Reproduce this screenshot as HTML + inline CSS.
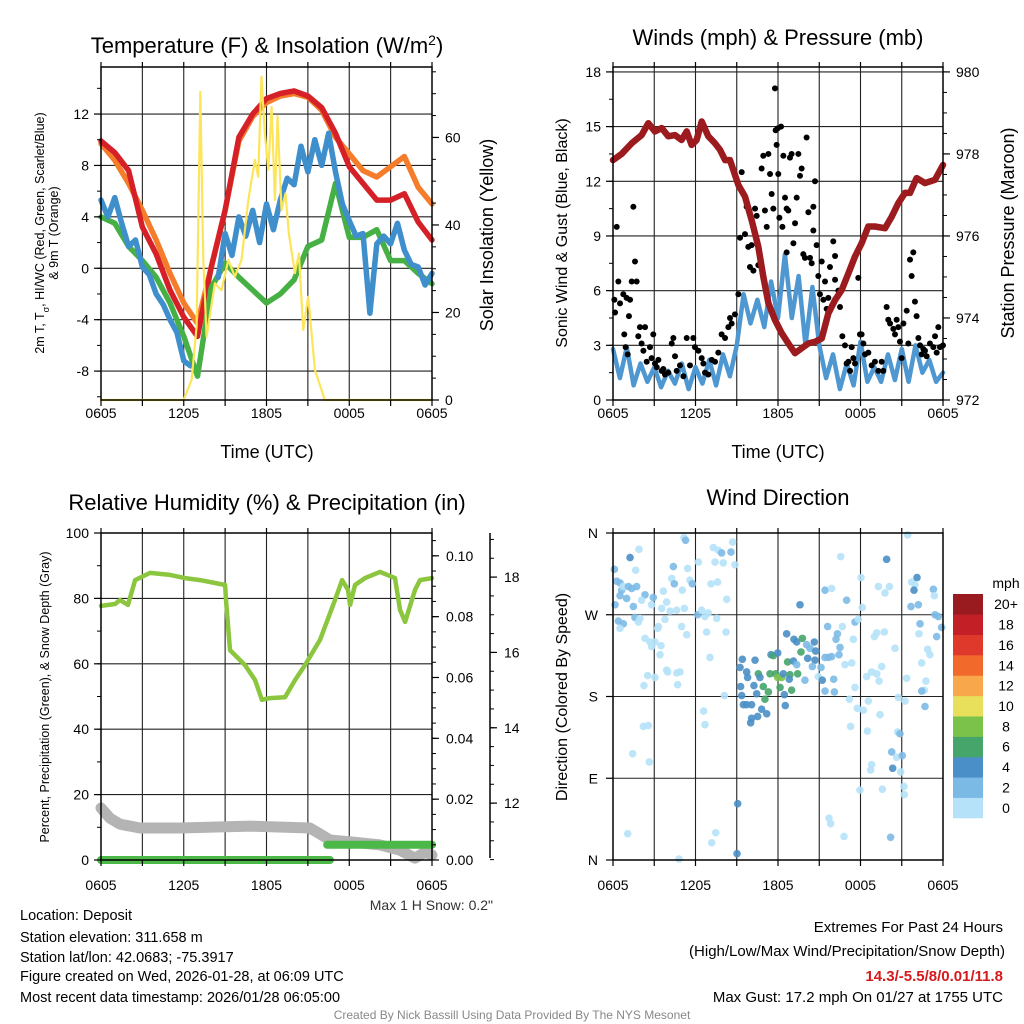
<!DOCTYPE html>
<html><head><meta charset="utf-8"><style>
html,body{margin:0;padding:0;background:#fff}
svg{display:block;font-family:"Liberation Sans",Arial,sans-serif}
</style></head><body>
<svg id="fig" width="1024" height="1024" viewBox="0 0 1024 1024" xmlns="http://www.w3.org/2000/svg">
<rect width="1024" height="1024" fill="#fff"/>
<g id="texts" fill="#000">
<text x="267" y="53" font-size="22" text-anchor="middle">Temperature (F) &amp; Insolation (W/m<tspan baseline-shift="super" font-size="14">2</tspan>)</text>
<text x="778" y="45" font-size="22" text-anchor="middle">Winds (mph) &amp; Pressure (mb)</text>
<text x="267" y="510" font-size="22" text-anchor="middle">Relative Humidity (%) &amp; Precipitation (in)</text>
<text x="778" y="505" font-size="22" text-anchor="middle">Wind Direction</text>
<text x="267" y="458" font-size="18" text-anchor="middle">Time (UTC)</text>
<text x="778" y="458" font-size="18" text-anchor="middle">Time (UTC)</text>
<text transform="translate(44,233) rotate(-90)" font-size="12.5" text-anchor="middle">2m T, T<tspan baseline-shift="sub" font-size="9">σ</tspan>, HI/WC (Red, Green, Scarlet/Blue)</text>
<text transform="translate(58,233) rotate(-90)" font-size="12.5" text-anchor="middle">&amp; 9m T (Orange)</text>
<text transform="translate(493,235) rotate(-90)" font-size="18" text-anchor="middle">Solar Insolation (Yellow)</text>
<text transform="translate(567,233) rotate(-90)" font-size="16" text-anchor="middle">Sonic Wind &amp; Gust (Blue, Black)</text>
<text transform="translate(1014,233) rotate(-90)" font-size="18" text-anchor="middle">Station Pressure (Maroon)</text>
<text transform="translate(49,697) rotate(-90)" font-size="12.5" text-anchor="middle">Percent, Precipitation (Green), &amp; Snow Depth (Gray)</text>
<text x="493" y="910" font-size="14" text-anchor="end" fill="#333">Max 1 H Snow: 0.2"</text>
<text transform="translate(567,697) rotate(-90)" font-size="16" text-anchor="middle">Direction (Colored By Speed)</text>
<text x="20" y="920" font-size="14.5">Location: Deposit</text>
<text x="20" y="942" font-size="14.5">Station elevation: 311.658 m</text>
<text x="20" y="962" font-size="14.5">Station lat/lon: 42.0683; -75.3917</text>
<text x="20" y="981" font-size="14.5">Figure created on Wed, 2026-01-28, at 06:09 UTC</text>
<text x="20" y="1002" font-size="14.5">Most recent data timestamp: 2026/01/28 06:05:00</text>
<text x="1003" y="932" font-size="15" text-anchor="end">Extremes For Past 24 Hours</text>
<text x="1005" y="956" font-size="15" text-anchor="end">(High/Low/Max Wind/Precipitation/Snow Depth)</text>
<text x="1003" y="981" font-size="15" font-weight="bold" fill="#d7191c" text-anchor="end">14.3/-5.5/8/0.01/11.8</text>
<text x="1003" y="1002" font-size="15" text-anchor="end">Max Gust: 17.2 mph On 01/27 at 1755 UTC</text>
<text x="512" y="1019" font-size="12" fill="#888" text-anchor="middle">Created By Nick Bassill Using Data Provided By The NYS Mesonet</text>
<text x="1006" y="588" font-size="14" text-anchor="middle">mph</text>
</g>
</svg>
<script>
// ---------- DATA ----------
const xTickLabels = ["0605","1205","1805","0005","0605"];
const hourly = [0,1,2,3,4,5,6,7,8,9,10,11,12,13,14,15,16,17,18,19,20,21,22,23,24];
const temp2m = [9.9,9.0,7.6,3.2,1.1,-1.7,-3.8,-5.3,0.1,4.5,10.2,12.0,13.2,13.6,13.8,13.4,12.5,10.5,7.9,6.6,5.3,5.3,5.8,3.6,2.2];
const temp9m = [9.7,8.4,6.6,4.5,2.2,-0.4,-2.7,-4.3,0.1,4.5,9.9,11.8,12.9,13.4,13.6,13.3,12.3,10.2,8.9,7.6,7.1,7.9,8.7,6.3,5.0];
const heatIndex = [4.0,3.5,1.7,0.6,-0.7,-2.7,-5.3,-8.4,-1.5,0.4,-0.7,-1.7,-2.7,-2.0,-0.9,1.7,2.2,6.6,2.4,2.4,3.0,0.6,0.6,-0.4,-1.2];
const halfHourly = [0,0.5,1,1.5,2,2.5,3,3.5,4,4.5,5,5.5,6,6.5,7,7.5,8,8.5,9,9.5,10,10.5,11,11.5,12,12.5,13,13.5,14,14.5,15,15.5,16,16.5,17,17.5,18,18.5,19,19.5,20,20.5,21,21.5,22,22.5,23,23.5,24];
const tempSigma = [5.3,4.0,5.5,3.5,1.7,2.2,0.1,-0.5,-2.0,-2.8,-4.0,-5.0,-7.2,-7.6,null,null,null,-0.7,2.7,1.0,4.0,2.5,4.5,2.0,5.0,3.0,5.3,7.0,6.5,9.5,7.5,10.0,8.0,10.5,7.5,5.0,3.7,2.5,2.7,-3.5,1.9,2.5,1.9,3.5,1.4,0.3,0.1,-1.3,-0.4];
const insolTimes = [0,5.99,6.57,6.93,7.2,7.42,7.66,8.26,8.74,9.23,9.71,10.19,10.68,11.16,11.4,11.64,11.88,12.13,12.37,12.61,12.8,13.09,13.38,13.62,14.06,14.35,14.66,15.02,15.51,16.23,24];
const insolVals = [0,0,4.6,16.8,70.4,32,14.5,26.7,25.1,32,28.2,32,45.7,54.9,51,73.9,61,52.6,67,45.7,64.8,43.4,47.2,38.1,29,33.5,16,23.6,6.9,0,0];
const pressTimes = [0,0.63,1.36,2.08,2.57,3.05,3.54,4.02,4.51,4.99,5.36,5.72,6.08,6.45,6.93,7.42,7.78,8.15,8.51,9.12,9.6,10.08,10.57,10.93,11.3,11.78,12.27,12.75,13.24,13.72,14.21,14.69,15.18,15.66,16.15,16.63,17.12,17.6,18.08,18.57,19.05,19.78,20.27,20.75,21.24,21.6,22.08,22.69,23.42,24];
const pressVals = [977.85,978.0,978.26,978.46,978.75,978.55,978.63,978.43,978.46,978.34,978.55,978.22,978.34,978.79,978.43,978.26,978.1,977.85,977.85,977.24,976.96,976.39,975.74,975.01,974.36,973.95,973.63,973.38,973.14,973.26,973.38,973.42,973.5,974.11,974.44,974.68,975.09,975.5,975.82,976.23,976.23,976.19,976.47,976.8,977.05,977.05,977.41,977.29,977.37,977.73];
const windVals = [2.8,1.2,2.9,0.8,2.0,1.0,1.8,0.7,1.6,0.9,2.0,0.6,1.8,0.9,2.2,0.8,2.5,1.3,3.0,5.8,4.2,5.5,4.0,6.5,4.5,8.0,4.5,6.8,3.0,6.2,3.0,1.2,2.5,0.6,2.0,0.8,3.2,1.0,1.8,1.0,2.5,1.1,2.8,1.0,3.0,1.5,2.2,1.0,1.5];
const gustTimes = [0.1,0.27,0.15,0.39,0.51,0.75,0.99,1.24,1.16,0.82,0.92,1.07,1.48,1.6,1.72,1.36,1.84,1.96,2.08,2.21,2.33,2.45,2.69,2.93,2.81,3.05,3.18,3.3,3.54,3.66,3.78,4.02,4.27,4.39,4.51,4.63,4.87,5.12,5.36,5.6,5.84,5.96,6.21,6.45,6.57,6.69,6.93,7.18,7.42,7.66,7.9,8.15,8.39,8.51,8.63,8.87,9.12,9.24,9.36,9.48,9.6,9.72,9.84,9.96,10.08,10.21,10.33,10.45,10.57,10.81,10.93,11.05,11.18,11.3,11.42,11.54,11.66,11.78,11.83,11.9,11.98,12.02,12.1,12.22,12.32,12.39,12.51,12.63,12.75,12.63,12.87,12.99,13.12,13.24,13.36,13.48,13.6,13.72,13.84,13.96,14.08,14.21,14.33,14.45,14.57,14.57,14.69,14.81,14.93,15.05,15.18,15.3,15.42,15.54,15.66,15.78,16.02,16.15,16.15,16.27,16.39,16.51,16.68,16.87,16.99,17.12,17.24,17.36,17.48,17.6,17.84,17.96,18.08,18.21,18.33,18.57,18.81,19.05,19.3,19.54,19.66,19.9,20.02,20.15,20.39,20.51,20.63,20.75,20.87,20.99,21.12,21.36,21.48,21.6,21.72,21.84,21.96,22.08,22.21,22.33,22.45,22.57,22.69,22.81,23.05,23.3,23.42,23.54,23.66,23.78,24.0];
const gustVals = [5.5,9.5,4.8,6.5,5.3,5.8,5.6,5.5,4.6,3.6,2.9,2.5,10.6,7.6,6.5,6.5,3.5,4.0,3.1,2.7,4.0,2.1,2.9,3.6,2.3,2.0,1.8,2.2,1.6,1.7,1.4,1.5,3.1,3.4,2.4,1.6,1.9,1.3,3.4,1.9,3.4,2.9,2.7,2.3,2.0,1.5,1.4,2.2,2.1,2.6,3.6,3.4,4.0,4.5,4.2,4.7,5.8,8.9,12.5,11.3,9.1,10.6,8.4,7.3,8.5,7.1,10.5,10.1,7.4,12.7,13.4,10.4,9.5,13.5,12.4,11.3,10.5,17.1,14.8,14.0,14.9,12.4,10.0,15.0,9.5,13.4,11.1,10.5,10.4,8.1,13.3,13.5,8.6,9.7,11.1,13.5,12.3,12.7,8.0,7.8,14.4,10.3,7.8,7.5,10.6,9.3,12.0,8.5,6.8,5.8,7.6,5.5,6.5,5.0,5.6,7.3,8.7,7.9,6.6,5.6,6.0,5.1,3.5,3.0,2.0,2.1,1.6,2.9,2.3,2.0,6.7,3.6,3.6,3.1,2.5,2.6,1.9,2.1,1.6,2.1,1.6,5.1,4.4,4.2,3.9,3.6,4.4,4.0,3.2,2.3,4.2,4.9,3.1,7.7,6.8,8.1,5.4,4.6,3.4,3.0,2.5,2.8,2.7,2.4,3.1,2.9,3.5,2.6,4.0,2.9,3.0];
const rhTimes = [0,1.02,1.38,1.96,2.47,3.55,5.0,6.09,7.18,8.27,9.0,9.06,9.35,10.44,11.17,11.67,12.25,13.34,14.07,14.79,15.88,16.97,17.48,17.91,18.06,18.42,19.14,20.23,21.32,21.68,22.05,22.77,23.13,24];
const rhVals = [77.7,78.3,79.5,78.0,85.6,87.8,87.2,86.2,85.6,84.7,84.1,79.5,64.2,59.6,55.0,49.0,49.5,49.8,55.0,59.6,67.3,79.5,85.6,82.6,78.0,84.1,86.2,88.1,86.2,76.5,72.8,82.6,85.6,86.2];
const snowTimes = [0,0.65,1.38,2.83,5.73,10.8,15.15,15.88,16.6,18.06,20.23,21.68,22.77,23.5,24];
const snowVals = [11.87,11.6,11.44,11.34,11.34,11.39,11.34,11.18,11.02,10.97,10.89,10.75,10.54,10.70,10.62];
const precipTimes = [0,16.6,16.4,24];
const precipVals = [0,0,0.005,0.005];
const dirTimes = [0.10,0.27,0.51,0.63,0.51,0.15,0.99,0.75,1.24,1.12,1.36,1.72,1.48,1.60,1.84,1.96,0.39,0.75,0.51,1.65,1.89,2.33,2.08,2.93,2.81,3.30,3.25,3.78,3.54,3.90,3.66,4.27,4.46,4.39,4.15,4.63,5.19,5.04,5.43,5.60,5.77,5.16,5.28,6.21,6.16,6.45,6.69,6.93,6.81,7.54,4.99,5.36,2.33,2.69,3.05,2.81,3.49,3.42,3.90,3.98,4.63,4.87,4.70,3.05,2.52,2.25,7.05,7.30,7.66,7.90,8.02,7.42,8.58,8.70,8.87,8.27,7.13,7.61,8.22,8.10,6.59,6.69,2.21,2.57,1.43,2.64,1.07,4.80,7.18,7.47,9.07,9.02,9.24,9.41,9.72,9.79,10.33,10.57,10.69,10.25,9.28,9.36,9.48,9.72,10.08,10.45,10.93,11.30,11.05,10.81,11.18,10.52,10.08,10.01,11.49,11.66,11.98,11.42,11.83,11.98,12.27,12.39,12.15,12.46,12.53,12.99,12.87,13.43,12.82,12.70,13.12,13.36,12.63,13.16,13.36,13.77,13.67,14.08,14.16,14.33,14.64,14.74,14.69,14.50,15.13,14.93,15.22,13.96,13.60,15.42,15.66,16.05,16.10,15.42,15.90,16.44,16.51,16.22,16.32,16.68,15.61,15.42,15.90,16.56,16.99,17.48,17.60,17.84,18.04,18.13,16.87,17.36,17.60,18.45,18.81,19.18,19.54,19.35,19.01,19.18,19.73,19.30,19.78,20.10,19.90,20.51,21.36,20.75,21.24,17.19,17.77,18.21,18.57,19.42,17.28,18.50,20.70,20.87,20.27,20.63,21.04,20.34,20.92,18.81,18.74,17.96,19.59,21.16,21.19,15.71,15.83,16.80,20.19,21.43,21.72,21.96,22.11,21.89,21.67,22.21,23.30,23.37,23.42,23.66,23.54,23.90,22.33,22.25,22.88,23.05,22.45,22.76,22.64,22.45,22.69];
const dirVals = [320,307,305,297,291,281,288,301,333,301,299,301,279,267,262,266,263,260,255,319,342,292,286,289,281,257,255,265,277,284,296,310,304,323,274,275,277,297,321,308,304,355,352,328,270,275,268,272,251,266,257,248,244,240,240,235,236,226,209,207,206,207,193,201,203,192,223,344,341,338,327,328,339,350,325,287,304,306,251,181,164,149,147,148,117,108,29,1,19,30,62,7,212,221,207,201,220,205,201,192,191,181,171,171,171,183,191,185,177,166,161,158,156,151,226,225,228,205,205,201,201,205,190,182,170,187,204,205,199,218,219,215,249,243,240,244,229,237,222,233,240,230,220,213,212,202,198,198,281,223,223,199,185,186,224,226,234,243,249,257,257,297,299,334,286,243,262,265,311,278,215,217,190,202,207,205,213,197,246,250,251,301,294,301,331,233,200,179,175,177,167,165,175,160,147,142,141,139,119,113,115,101,97,105,99,77,78,81,72,46,40,26,25,358,306,303,311,297,279,281,298,291,270,268,246,256,260,249,232,226,217,197,187,186,169];
const dirSpeeds = [3,3,3,3,3,3,3,1,5,3,3,3,3,3,1,1,3,3,1,1,1,3,1,3,1,1,1,1,1,1,1,1,3,3,1,1,1,1,1,1,3,1,3,1,3,1,1,1,1,1,1,1,1,1,1,1,1,1,1,1,1,1,1,1,1,1,1,1,1,3,1,1,3,1,1,1,1,1,1,1,1,1,1,1,1,1,1,1,1,1,5,5,5,5,5,5,5,7,5,5,5,5,5,5,5,5,7,7,7,5,5,5,5,5,5,7,5,7,7,9,9,5,7,5,5,7,7,7,5,7,5,3,5,5,5,7,7,3,5,3,5,5,5,3,3,1,5,3,5,3,3,3,3,3,3,3,3,3,3,1,3,3,1,1,3,1,3,1,1,1,1,1,1,1,1,1,1,1,1,1,1,1,1,1,5,1,1,1,1,1,1,1,1,1,1,1,1,3,3,1,3,5,1,1,1,1,1,1,1,1,1,1,3,1,1,1,5,5,3,3,3,1,3,3,3,3,3,1,1,1,1,1,1,3,3,3,1];
const speedBins = ["0","2","4","6","8","10","12","14","16","18","20+"];
const binColors = ["#b5e2f8","#7cbae6","#4a8fc7","#46a56a","#7bc24a","#e8e05a","#f8a84a","#f26a2b","#df392b","#c31f27","#9a1b1f"];

// ---------- HELPERS ----------
const NS = "http://www.w3.org/2000/svg";
const svg = document.getElementById("fig");
function mk(tag, attrs, parent){const e=document.createElementNS(NS,tag);for(const k in attrs)e.setAttribute(k,attrs[k]);(parent||svg).appendChild(e);return e;}
function scale(d0,d1,r0,r1){return v=>r0+(v-d0)*(r1-r0)/(d1-d0);}
function linePath(xs,ys,fx,fy){let d="",pen=false;for(let i=0;i<xs.length;i++){if(ys[i]==null){pen=false;continue;}if(pen&&xs[i]<xs[i-1]){pen=false;}d+=(pen?"L":"M")+fx(xs[i]).toFixed(1)+","+fy(ys[i]).toFixed(1);pen=true;}return d;}

function panel(name,x0,x1,y0,y1){
  const g=mk("g",{});
  
  
  const fx=scale(0,24,x0,x1);
  return {g,fx,x0,x1,y0,y1};
}
function grid(p,ys,fy,hourStep){
  for(let h=hourStep;h<24;h+=hourStep){const l=mk("line",{x1:p.fx(h),x2:p.fx(h),y1:p.y0,y2:p.y1,stroke:"#222","stroke-width":1.1},p.g);
    
    }
  ys.forEach(v=>{const y=fy(v);const l=mk("line",{x1:p.x0,x2:p.x1,y1:y,y2:y,stroke:"#222","stroke-width":1.1},p.g);
    
    });
}
function frame(p){const r=mk("rect",{x:p.x0,y:p.y0,width:p.x1-p.x0,height:p.y1-p.y0,fill:"none",stroke:"#000","stroke-width":1.5});
  
  }
function xAxis(p,labelY){
  for(let h=0;h<=24;h+=3){const x=p.fx(h);mk("line",{x1:x,x2:x,y1:p.y1,y2:p.y1+6,stroke:"#000","stroke-width":1.2},p.g);mk("line",{x1:x,x2:x,y1:p.y0,y2:p.y0-5,stroke:"#000","stroke-width":1.2},p.g);}
  xTickLabels.forEach((t,i)=>{const e=mk("text",{x:p.fx(i*6),y:labelY,"font-size":14,"text-anchor":"middle"},p.g);e.textContent=t;
    
    });
}
function yAxis(x,y0,y1,fy,labels,fmt,minorStep,lo,hi,side,labelDx,name){
  const ax=mk("g",{});
  
  
  const dir=side==="left"?-1:1;
  for(let v=lo;v<=hi+1e-9;v+=minorStep){const y=fy(v);mk("line",{x1:x,x2:x+dir*4,y1:y,y2:y,stroke:"#000","stroke-width":1},ax);}
  labels.forEach(v=>{const y=fy(v);mk("line",{x1:x,x2:x+dir*7,y1:y,y2:y,stroke:"#000","stroke-width":1.2},ax);
    const t=mk("text",{x:x+dir*labelDx,y:y+5,"font-size":14,"text-anchor":side==="left"?"end":"start"},ax);t.textContent=fmt(v);
    
    });
  return ax;
}
function series(p,d,color,w,name,extra){
  const e=mk("path",Object.assign({d:d,fill:"none",stroke:color,"stroke-width":w,"stroke-linejoin":"round","stroke-linecap":"round"},extra||{}),p.g);
  
  
  return e;
}

// ---------- PANEL 1 ----------
{
  const p=panel("temperature-panel",101,432,67,400);
  const fy=scale(-10.25,15.66,400,67), fr=scale(0,76.1,400,67);
  grid(p,[-8,-4,0,4,8,12],fy,3);
  series(p,linePath(hourly,temp9m,p.fx,fy),"#f47c2a",5.5,"temp-9m-line");
  series(p,linePath(hourly,temp2m,p.fx,fy),"#d62027",5.5,"temp-2m-line");
  series(p,linePath(hourly,heatIndex,p.fx,fy),"#46b045",5.5,"heat-index-line");
  series(p,linePath(halfHourly,tempSigma,p.fx,fy),"#3f8fcc",5.5,"temp-sigma-line");
  series(p,linePath(insolTimes,insolVals,p.fx,fr),"#fde55a",2.2,"insolation-line");
  frame(p);xAxis(p,418);
  yAxis(101,67,400,fy,[-8,-4,0,4,8,12],v=>String(v),2,-10,14,"left",12,"temperature-y-axis");
  yAxis(432,67,400,fr,[0,20,40,60],v=>String(v),5,0,75,"right",13,"insolation-y-axis");
}
// ---------- PANEL 2 ----------
{
  const p=panel("winds-panel",613,943,67,400);
  const fy=scale(0,18.27,400,67), fp=scale(972,980.12,400,67);
  grid(p,[3,6,9,12,15,18],fy,3);
  series(p,linePath(halfHourly,windVals,p.fx,fy),"#4e97d1",4.5,"sonic-wind-line");
  gustTimes.forEach((t,i)=>{const c=mk("circle",{cx:p.fx(t),cy:fy(gustVals[i]),r:3,fill:"#000"},p.g);
    
    });
  series(p,linePath(pressTimes,pressVals,p.fx,fp),"#9b1b1e",6.5,"pressure-line");
  frame(p);xAxis(p,418);
  yAxis(613,67,400,fy,[0,3,6,9,12,15,18],v=>String(v),1.5,0,18,"left",12,"wind-y-axis");
  yAxis(943,67,400,fp,[972,974,976,978,980],v=>String(v),0.5,972,980,"right",13,"pressure-y-axis");
}
// ---------- PANEL 3 ----------
{
  const p=panel("humidity-panel",101,432,533,860);
  const fy=scale(0,100,860,533), fpr=scale(0,0.1075,860,533), fs=scale(10.49,19.17,860,533);
  grid(p,[20,40,60,80],fy,3);
  series(p,linePath(snowTimes,snowVals,p.fx,fs),"#b4b4b4",11,"snow-depth-line");
  series(p,linePath(precipTimes,precipVals,p.fx,fpr),"#4cb848",8,"precipitation-line");
  series(p,linePath(rhTimes,rhVals,p.fx,fy),"#8cc63f",4.5,"relative-humidity-line");
  frame(p);xAxis(p,890);
  yAxis(101,533,860,fy,[0,20,40,60,80,100],v=>String(v),10,0,100,"left",12,"humidity-y-axis");
  yAxis(432,533,860,fpr,[0,0.02,0.04,0.06,0.08,0.10],v=>v.toFixed(2),0.005,0,0.105,"right",14,"precipitation-y-axis");
  const sa=yAxis(490,533,860,fs,[12,14,16,18],v=>String(v),0.5,10.5,19,"right",14,"snow-depth-y-axis");
  mk("line",{x1:490,x2:490,y1:533,y2:858,stroke:"#000","stroke-width":1.5},sa);
}
// ---------- PANEL 4 ----------
{
  const p=panel("wind-direction-panel",613,943,533,860);
  const fd=scale(0,360,860,533);
  grid(p,[90,180,270],fd,3);
  dirTimes.forEach((t,i)=>{const b=Math.min(10,Math.floor(dirSpeeds[i]/2));
    const c=mk("circle",{cx:p.fx(t),cy:fd(dirVals[i]),r:3.8,fill:binColors[b],"fill-opacity":0.9},p.g);
    
    });
  frame(p);xAxis(p,890);
  const lab=["N","E","S","W","N"];
  lab.forEach((t,i)=>{const y=fd(i*90);mk("line",{x1:613,x2:606,y1:y,y2:y,stroke:"#000","stroke-width":1.2},p.g);
    const e=mk("text",{x:598,y:y+5,"font-size":14,"text-anchor":"end"},p.g);e.textContent=t;
    
    });
  const cb=mk("g",{});
  
  
  const h=224/speedBins.length;
  speedBins.forEach((s,i)=>{const y=818-(i+1)*h;
    const r=mk("rect",{x:953,y:y,width:30,height:h+0.3,fill:binColors[i]},cb);
    
    
    const t=mk("text",{x:1006,y:y+h/2+5,"font-size":14,"text-anchor":"middle"},cb);t.textContent=s;
    
    });
}
</script>
</body></html>
